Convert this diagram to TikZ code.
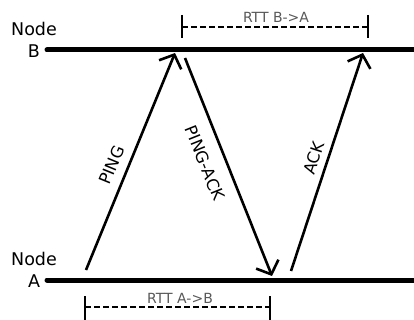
\documentclass[tikz,border=0pt]{standalone}
\usepackage{fontspec}
\setmainfont{DejaVu Sans}
\usetikzlibrary{arrows.meta}
\begin{document}
\begin{tikzpicture}[x=1pt,y=-1pt,
  timeline/.style={line width=5pt,line cap=round},
  msg/.style={line width=2.6pt,-{Straight Barb[length=11pt,width=24pt,line width=2.6pt]}},
  msglabel/.style={font=\fontsize{16.5}{18}\selectfont,inner sep=1pt},
  nodelabel/.style={font=\fontsize{17.5}{21.5}\selectfont,align=center,inner sep=0pt},
  rtt/.style={line width=1.3pt,dash pattern=on 6pt off 3pt},
  tick/.style={line width=1.3pt},
  rttlabel/.style={font=\fontsize{14}{15}\selectfont,text=black!65,inner sep=0pt}]
\useasboundingbox (0,0) rectangle (414,320);
% timelines
\coordinate (bL) at (47,50);
\coordinate (bR) at (416,50);
\coordinate (aL) at (47,280);
\coordinate (aR) at (416,280);
\draw[timeline] (bL) -- (bR);
\draw[timeline] (aL) -- (aR);
\node[nodelabel] (nb) at (34,40) {Node\\B};
\node[nodelabel] (na) at (34,270) {Node\\A};
% messages
\coordinate (pingS) at (86,270);
\coordinate (pingE) at (175,53);
\coordinate (packS) at (185,58);
\coordinate (packE) at (272,276);
\coordinate (ackS) at (291,271);
\coordinate (ackE) at (363,53);
\draw[msg] (pingS) -- (pingE);
\draw[msg] (packS) -- (packE);
\draw[msg] (ackS) -- (ackE);
\node[msglabel,rotate=67.7] (lping) at (112,165) {PING};
\node[msglabel,rotate=-68.2] (lpack) at (205,163) {PING-ACK};
\node[msglabel,rotate=71.7] (lack) at (314,158) {ACK};
% RTT B->A
\coordinate (t1a) at (182,15);
\coordinate (t1b) at (182,38);
\coordinate (t2a) at (368,15);
\coordinate (t2b) at (368,38);
\coordinate (d1a) at (182,27);
\coordinate (d1b) at (368,27);
\draw[tick] (t1a) -- (t1b);
\draw[tick] (t2a) -- (t2b);
\draw[rtt] (d1a) -- (d1b);
\node[rttlabel] (rba) at (276,17) {RTT B->A};
% RTT A->B
\coordinate (t3a) at (85,296);
\coordinate (t3b) at (85,322);
\coordinate (t4a) at (270,296);
\coordinate (t4b) at (270,322);
\coordinate (d2a) at (85,307);
\coordinate (d2b) at (270,307);
\draw[tick] (t3a) -- (t3b);
\draw[tick] (t4a) -- (t4b);
\draw[rtt] (d2a) -- (d2b);
\node[rttlabel] (rab) at (180,298) {RTT A->B};
\end{tikzpicture}
\end{document}
